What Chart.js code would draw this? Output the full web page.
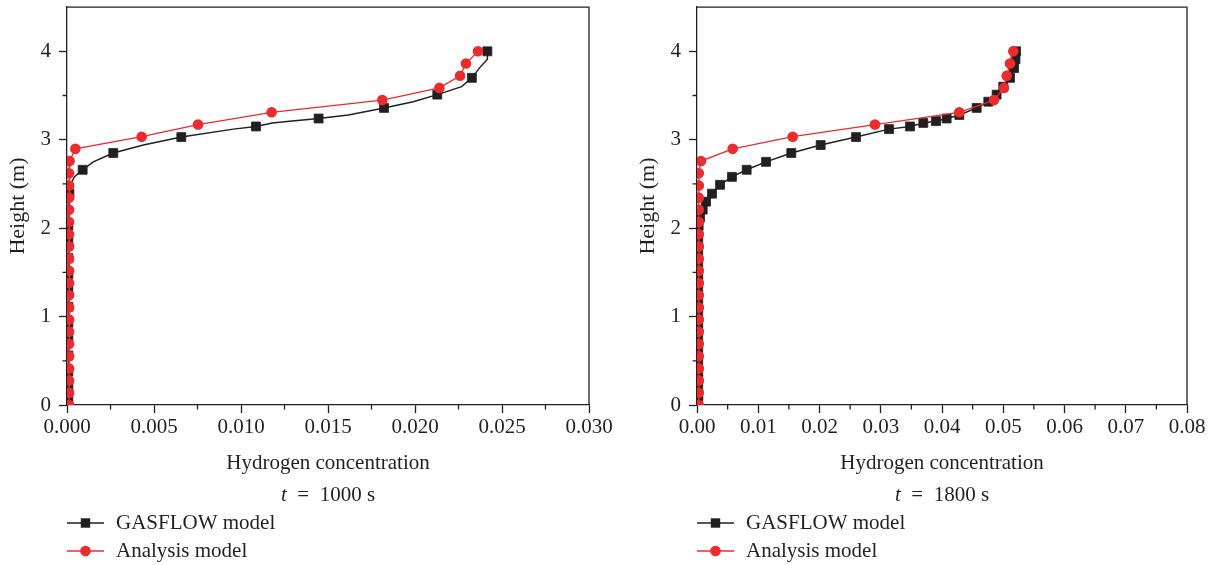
<!DOCTYPE html>
<html><head><meta charset="utf-8">
<script src="https://cdn.jsdelivr.net/npm/chart.js@4.4.0/dist/chart.umd.min.js"></script>
<style>
html,body{margin:0;padding:0;background:#fff;width:1214px;height:565px;overflow:hidden}
.box{position:absolute;top:0;height:565px}
#b1{left:0;width:640px}
#b2{left:607px;width:607px}
</style></head><body>
<div class="box" id="b1"><canvas id="c1"></canvas></div>
<div class="box" id="b2"><canvas id="c2"></canvas></div>
<script>
// ---- data ----
const gasflowHeights = [4.00, 3.91, 3.81, 3.70, 3.60, 3.51, 3.43, 3.36, 3.28, 3.24, 3.21, 3.19, 3.15, 3.12, 3.03, 2.94, 2.85, 2.75, 2.66, 2.58, 2.49, 2.39, 2.30, 2.21, 2.12, 2.03, 1.94, 1.85, 1.76, 1.66, 1.57, 1.48, 1.39, 1.30, 1.21, 1.11, 1.02, 0.93, 0.84, 0.75, 0.66, 0.56, 0.47, 0.38, 0.29, 0.20, 0.11, 0.05];
const gasflow1000 = [0.02416, 0.02416, 0.0237, 0.02327, 0.02268, 0.02128, 0.0199, 0.01822, 0.01617, 0.01446, 0.0128, 0.0118, 0.01086, 0.00956, 0.00657, 0.00439, 0.00266, 0.00151, 0.00090, 0.00042, 0.00020, 0.00014, 0.00011, 0.00008, 0.00008, 0.00008, 0.00008, 0.00008, 0.00008, 0.00008, 0.00008, 0.00008, 0.00008, 0.00008, 0.00008, 0.00008, 0.00008, 0.00008, 0.00008, 0.00008, 0.00008, 0.00008, 0.00008, 0.00008, 0.00008, 0.00008, 0.00008, 0.00008];
const gasflow1800 = [0.0521, 0.0520, 0.05176, 0.0511, 0.0500, 0.04892, 0.04756, 0.04566, 0.04283, 0.04076, 0.03902, 0.03695, 0.03478, 0.03135, 0.02596, 0.02019, 0.01540, 0.01127, 0.00811, 0.00571, 0.00376, 0.00245, 0.00147, 0.00093, 0.00049, 0.00027, 0.0002, 0.0002, 0.0002, 0.0002, 0.0002, 0.0002, 0.0002, 0.0002, 0.0002, 0.0002, 0.0002, 0.0002, 0.0002, 0.0002, 0.0002, 0.0002, 0.0002, 0.0002, 0.0002, 0.0002, 0.0002, 0.0002];
const analysisHeights = [4.000, 3.862, 3.724, 3.586, 3.448, 3.310, 3.172, 3.034, 2.897, 2.759, 2.621, 2.483, 2.345, 2.207, 2.069, 1.931, 1.793, 1.655, 1.517, 1.379, 1.241, 1.103, 0.966, 0.828, 0.690, 0.552, 0.414, 0.276, 0.138, 0.000];
const analysis1000 = [0.02362, 0.02293, 0.02259, 0.02140, 0.01812, 0.01176, 0.00753, 0.00429, 0.00048, 0.00015, 0.00012, 0.00012, 0.00012, 0.00012, 0.00012, 0.00012, 0.00012, 0.00012, 0.00012, 0.00012, 0.00012, 0.00012, 0.00012, 0.00012, 0.00012, 0.00012, 0.00012, 0.00012, 0.00012, 0.00012];
const analysis1800 = [0.05164, 0.0511, 0.05056, 0.05012, 0.04849, 0.04283, 0.02906, 0.01562, 0.00583, 0.00065, 0.0003, 0.0003, 0.0003, 0.0003, 0.0003, 0.0003, 0.0003, 0.0003, 0.0003, 0.0003, 0.0003, 0.0003, 0.0003, 0.0003, 0.0003, 0.0003, 0.0003, 0.0003, 0.0003, 0.0003];
const gasflowMarked1000 = [0, 3, 5, 7, 9, 12, 14, 16, 18, 21, 25, 27, 29, 31, 33, 35, 37, 39, 41, 43, 45, 47];

const yTicks = [0, 1, 2, 3, 4];
const yLabels = ['0', '1', '2', '3', '4'];
const yMinor = [0.5, 1.5, 2.5, 3.5];
const xTicks1000 = [0, 0.005, 0.010, 0.015, 0.020, 0.025, 0.030];
const xLabels1000 = ['0.000', '0.005', '0.010', '0.015', '0.020', '0.025', '0.030'];
const xMinor1000 = [0.0025, 0.0075, 0.0125, 0.0175, 0.0225, 0.0275];
const xTicks1800 = [0, 0.01, 0.02, 0.03, 0.04, 0.05, 0.06, 0.07, 0.08];
const xLabels1800 = ['0.00', '0.01', '0.02', '0.03', '0.04', '0.05', '0.06', '0.07', '0.08'];
const xMinor1800 = [0.005, 0.015, 0.025, 0.035, 0.045, 0.055, 0.065, 0.075];

const seriesNames = ['GASFLOW model', 'Analysis model'];
const xTitle = 'Hydrogen concentration';
const yTitle = 'Height (m)';

// ---- style ----
const INK = '#231F20';
const RED = '#EC2B2E';
const FAMILY = "'Liberation Serif', 'DejaVu Serif', serif";
const FS = 21;
Chart.defaults.font.family = FAMILY;
Chart.defaults.font.size = FS;
Chart.defaults.color = INK;

const framePlugin = {
  id: 'frame',
  afterDraw(chart, args, opts) {
    const {ctx, chartArea: {left, right, top, bottom}, scales: {x, y}} = chart;
    ctx.save();
    ctx.strokeStyle = INK;
    ctx.lineWidth = 1.3;
    ctx.beginPath();
    ctx.moveTo(left, top); ctx.lineTo(right, top); ctx.lineTo(right, bottom);
    opts.xMinor.forEach(v => { const px = x.getPixelForValue(v); ctx.moveTo(px, bottom); ctx.lineTo(px, bottom + 4.5); });
    opts.yMinor.forEach(v => { const py = y.getPixelForValue(v); ctx.moveTo(left, py); ctx.lineTo(left - 4.5, py); });
    ctx.stroke();
    ctx.restore();
  }
};

const notePlugin = {
  id: 'note',
  afterDraw(chart, args, opts) {
    const {ctx, chartArea: {left, right, bottom}} = chart;
    ctx.save();
    ctx.fillStyle = INK;
    ctx.textBaseline = 'middle';
    const cx = (left + right) / 2;
    const yT = bottom + 90;
    ctx.font = 'italic ' + FS + 'px ' + FAMILY;
    const wt = ctx.measureText('t').width;
    ctx.font = FS + 'px ' + FAMILY;
    const rest = '\u2002=\u2002' + opts.time + ' s';
    const wr = ctx.measureText(rest).width;
    const sx = cx - (wt + wr) / 2;
    ctx.textAlign = 'left';
    ctx.font = 'italic ' + FS + 'px ' + FAMILY;
    ctx.fillText('t', sx, yT);
    ctx.font = FS + 'px ' + FAMILY;
    ctx.fillText(rest, sx + wt, yT);
    const rows = [bottom + 118, bottom + 146];
    const x0 = left, x1 = left + 37, xm = left + 18.5;
    ctx.strokeStyle = INK; ctx.lineWidth = 1.5;
    ctx.beginPath(); ctx.moveTo(x0, rows[0]); ctx.lineTo(x1, rows[0]); ctx.stroke();
    ctx.fillStyle = INK;
    ctx.fillRect(xm - 4.7, rows[0] - 4.7, 9.4, 9.4);
    ctx.strokeStyle = RED; ctx.lineWidth = 1.3;
    ctx.beginPath(); ctx.moveTo(x0, rows[1]); ctx.lineTo(x1, rows[1]); ctx.stroke();
    ctx.fillStyle = RED;
    ctx.beginPath(); ctx.arc(xm, rows[1], 5.3, 0, Math.PI * 2); ctx.fill();
    ctx.fillStyle = INK;
    ctx.font = FS + 'px ' + FAMILY;
    ctx.fillText(seriesNames[0], left + 49, rows[0]);
    ctx.fillText(seriesNames[1], left + 49, rows[1]);
    ctx.restore();
  }
};

function makeChart(id, gasX, anaX, xTicks, xLabels, xMinor, xMax, time, padLeft, padRight, marked) {
  const gasData = gasX.map((v, i) => ({x: v, y: gasflowHeights[i]}));
  const anaData = anaX.map((v, i) => ({x: v, y: analysisHeights[i]}));
  return new Chart(document.getElementById(id), {
    type: 'scatter',
    data: {
      datasets: [
        {
          label: seriesNames[1], data: anaData, showLine: true, order: 0,
          borderColor: RED, backgroundColor: RED, borderWidth: 1.3,
          pointStyle: 'circle', pointRadius: 5.3, pointBorderWidth: 0,
          pointBackgroundColor: RED, tension: 0
        },
        {
          label: seriesNames[0], data: gasData, showLine: true, order: 1,
          borderColor: INK, backgroundColor: INK, borderWidth: 1.5,
          pointStyle: 'rect',
          pointRadius: ctx => (marked === null || marked.includes(ctx.dataIndex)) ? 6.3 : 0,
          pointBorderWidth: 0.8, pointBorderColor: INK, pointBackgroundColor: INK, tension: 0
        }
      ]
    },
    options: {
      responsive: true, maintainAspectRatio: false, animation: false,
      layout: {padding: {left: padLeft, right: padRight, top: 6, bottom: 87}},
      plugins: {legend: {display: false}, tooltip: {enabled: false}, frame: {xMinor, yMinor}, note: {time}},
      scales: {
        x: {
          type: 'linear', min: 0, max: xMax,
          afterBuildTicks: s => { s.ticks = xTicks.map(v => ({value: v})); },
          afterFit: s => { s.height = 73; s.paddingLeft = 0; s.paddingRight = 0; },
          ticks: {callback: (v, i) => xLabels[i], autoSkip: false, maxRotation: 0, padding: 2, color: INK, font: {size: FS}},
          grid: {drawOnChartArea: false, drawTicks: true, tickLength: 8, tickColor: INK, tickWidth: 1.3},
          border: {color: INK, width: 1.3},
          title: {display: true, text: xTitle, color: INK, font: {size: FS}, padding: {top: 0, bottom: 2}}
        },
        y: {
          type: 'linear', min: 0, max: 4.5,
          afterBuildTicks: s => { s.ticks = yTicks.map(v => ({value: v})); },
          afterFit: s => { s.width = 67; s.paddingTop = 0; s.paddingBottom = 0; },
          ticks: {callback: (v, i) => yLabels[i], autoSkip: false, padding: 8, color: INK, font: {size: FS}},
          grid: {drawOnChartArea: false, drawTicks: true, tickLength: 8, tickColor: INK, tickWidth: 1.3},
          border: {color: INK, width: 1.3},
          title: {display: true, text: yTitle, color: INK, font: {size: 22}, padding: {top: 5, bottom: 0}}
        }
      }
    },
    plugins: [framePlugin, notePlugin]
  });
}

makeChart('c1', gasflow1000, analysis1000, xTicks1000, xLabels1000, xMinor1000, 0.030, '1000', 0, 51, gasflowMarked1000);
makeChart('c2', gasflow1800, analysis1800, xTicks1800, xLabels1800, xMinor1800, 0.08, '1800', 23, 27, null);
</script>
</body></html>
